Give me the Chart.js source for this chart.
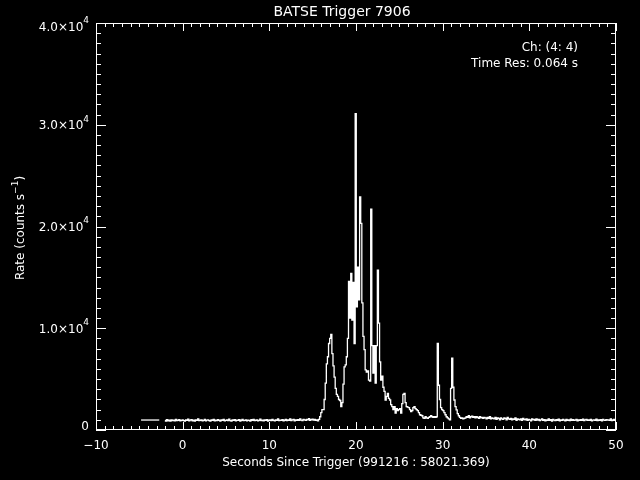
<!DOCTYPE html>
<html>
<head>
<meta charset="utf-8">
<title>BATSE Trigger 7906</title>
<script src="https://cdn.jsdelivr.net/npm/chart.js@4.4.1/dist/chart.umd.min.js"></script>
<style>
  html, body { margin: 0; padding: 0; background: #000; }
  canvas { display: block; }
</style>
</head>
<body>
<canvas id="lc" width="640" height="480"></canvas>
<script>
// time grid of the light curve (s since trigger), 2 bins of 0.064 s per point
const T0 = -2.048;
const DT = 0.128;

// count rates, 8 points (1.024 s) per row
const rates = [
  940, 880, 1010, 900, 960, 870, 1000, 930,
  980, 900, 1050, 920, 960, 1010, 890, 950,
  1000, 930, 870, 990, 940, 1060, 900, 970,
  1020, 910, 960, 880, 1000, 940, 1080, 920,
  960, 1000, 890, 950, 1030, 910, 970, 1000,
  930, 870, 990, 950, 1040, 900, 960, 920,
  1010, 940, 880, 1000, 960, 1050, 910, 950,
  990, 920, 1070, 930, 880, 1000, 950, 1020,
  900, 970, 940, 1010, 880, 960, 1030, 920,
  950, 1000, 900, 980, 940, 870, 1010, 960,
  1040, 920, 960, 1000, 890, 950, 1060, 930,
  970, 910, 1000, 940, 1020, 880, 960, 990,
  930, 1050, 950, 900, 1000, 960, 1090, 920,
  980, 940, 1010, 890, 960, 1030, 920, 1000,
  950, 1080, 930, 990, 1040, 910, 1000, 960,
  1020, 950, 1100, 980, 930, 1050, 1000, 960,
  1040, 990, 1120, 960, 1010, 1070, 980, 1030,
  950, 1000, 900, 1050, 1300, 1700, 2000, 2000,
  3000, 4600, 6500, 7200, 8500, 9000, 9400, 7500,
  6300, 5200, 4100, 3500, 3300, 3000, 2900, 2300,
  2700, 4500, 6200, 6400, 7200, 9000, 14600, 11000,
  15400, 10800, 14500, 8500, 31100, 12100, 16000, 12800,
  22900, 20300, 12500, 9200, 7900, 5900, 5700, 5800,
  4900, 4800, 21700, 8300, 5600, 8300, 4600, 8300,
  15700, 10500, 6700, 4900, 5300, 4200, 3800, 2950,
  3300, 3600, 3100, 2950, 2500, 2300, 2000, 2300,
  1650, 2100, 1900, 2000, 2100, 1650, 2600, 3500,
  3600, 2700, 2300, 2250, 2200, 2000, 1800, 1900,
  2200, 2300, 2100, 2000, 1900, 1700, 1500, 1450,
  1400, 1200, 1150, 1300, 1200, 1150, 1250, 1300,
  1400, 1300, 1250, 1300, 1250, 1300, 8500, 4400,
  3000, 2200, 2000, 1900, 1700, 1500, 1300, 1200,
  1100, 1000, 4100, 7050, 4200, 2950, 2300, 1970,
  1600, 1400, 1250, 1150, 1200, 1100, 1150, 1200,
  1300, 1250, 1400, 1200, 1300, 1350, 1250, 1300,
  1200, 1300, 1250, 1150, 1300, 1200, 1250, 1150,
  1250, 1200, 1100, 1250, 1150, 1300, 1100, 1200,
  1150, 1100, 1250, 1050, 1200, 1150, 1000, 1200,
  1100, 1050, 1200, 1150, 1000, 1250, 1100, 1050,
  1150, 1000, 1100, 1050, 1200, 950, 1100, 1050,
  1000, 1100, 950, 1150, 1050, 1000, 1100, 950,
  1050, 1000, 900, 1100, 1000, 1050, 950, 1100,
  980, 1050, 920, 1000, 1080, 950, 1020, 900,
  1000, 960, 1090, 940, 1010, 880, 1050, 970,
  930, 1020, 960, 1060, 900, 1000, 950, 1030,
  980, 900, 1040, 960, 1000, 920, 1070, 950,
  1010, 940, 980, 1050, 900, 1000, 960, 1020,
  950, 1060, 920, 990, 1030, 940, 1000, 960,
  1040, 910, 980, 1000, 950, 1070, 930, 990,
  960, 1020, 900, 1050, 980, 940, 1010, 970,
  1000, 950, 1080, 920, 990, 1030, 960, 1010
];

// short flat pre-trigger segment
const preTimes = [-4.8, -2.7];
const preRates = [980, 980];

const xTicks = [-10, 0, 10, 20, 30, 40, 50];
const yTicks = [0, 10000, 20000, 30000, 40000];
const yTickLabels = ['0', '1.0\u00d710', '2.0\u00d710', '3.0\u00d710', '4.0\u00d710'];

const FONT = '"DejaVu Sans", sans-serif';

const points = rates.map((r, i) => ({ x: T0 + i * DT, y: r }));
const prePoints = preTimes.map((t, i) => ({ x: t, y: preRates[i] }));

const idlFrame = {
  id: 'idlFrame',
  beforeDraw(chart) {
    const c = chart.ctx;
    c.save();
    c.fillStyle = '#000';
    c.fillRect(0, 0, chart.width, chart.height);
    c.restore();
  },
  afterDraw(chart) {
    const c = chart.ctx;
    const a = chart.chartArea;
    const xs = chart.scales.x, ys = chart.scales.y;
    c.save();
    c.strokeStyle = '#fff';
    c.fillStyle = '#fff';
    c.lineWidth = 1;
    c.strokeRect(a.left + 0.5, a.top + 0.5, a.right - a.left - 1, a.bottom - a.top - 1);

    c.beginPath();
    for (let v = -10; v <= 50; v++) {
      const px = Math.round(xs.getPixelForValue(v)) + 0.5;
      const len = v % 10 === 0 ? 8 : 4;
      c.moveTo(px, a.bottom); c.lineTo(px, a.bottom - len);
      c.moveTo(px, a.top); c.lineTo(px, a.top + len);
    }
    for (let v = 0; v <= 40000; v += 1000) {
      const py = Math.round(ys.getPixelForValue(v)) + 0.5;
      const len = v % 10000 === 0 ? 10 : 5;
      c.moveTo(a.left, py); c.lineTo(a.left + len, py);
      c.moveTo(a.right, py); c.lineTo(a.right - len, py);
    }
    c.stroke();

    // x tick labels
    c.font = '12px ' + FONT;
    c.textAlign = 'center';
    c.textBaseline = 'middle';
    xTicks.forEach(v => {
      const s = v < 0 ? '\u2212' + Math.abs(v) : String(v);
      c.fillText(s, xs.getPixelForValue(v), 446);
    });

    // y tick labels with raised exponent
    yTicks.forEach((v, i) => {
      const py = ys.getPixelForValue(v);
      c.textBaseline = 'middle';
      if (v === 0) {
        c.font = '12px ' + FONT;
        c.textAlign = 'right';
        c.fillText('0', 89, py - 3);
        return;
      }
      const dy = i === yTicks.length - 1 ? 5 : 1.5;
      c.font = '9px ' + FONT;
      c.textAlign = 'right';
      const ew = c.measureText('4').width;
      c.fillText('4', 89, py + dy - 7);
      c.font = '12px ' + FONT;
      c.fillText(yTickLabels[i], 89 - ew, py + dy);
    });

    // title and axis titles
    c.textAlign = 'center';
    c.font = '14px ' + FONT;
    c.fillText('BATSE Trigger 7906', 342, 12);
    c.font = '12px ' + FONT;
    c.fillText('Seconds Since Trigger (991216 : 58021.369)', 356, 463);

    // rotated y title
    c.save();
    c.translate(21, 228);
    c.rotate(-Math.PI / 2);
    const p1 = 'Rate (counts s', p3 = ')';
    c.font = '12px ' + FONT;
    const w1 = c.measureText(p1).width;
    const w3 = c.measureText(p3).width;
    c.font = '9px ' + FONT;
    const w2 = c.measureText('\u22121').width;
    let x0 = -(w1 + w2 + w3) / 2;
    c.textAlign = 'left';
    c.font = '12px ' + FONT;
    c.fillText(p1, x0, 0);
    c.font = '9px ' + FONT;
    c.fillText('\u22121', x0 + w1, -5);
    c.font = '12px ' + FONT;
    c.fillText(p3, x0 + w1 + w2, 0);
    c.restore();

    // annotation, top right
    c.textAlign = 'right';
    c.font = '12px ' + FONT;
    c.fillText('Ch: (4: 4)', 578, 48);
    c.fillText('Time Res: 0.064 s', 578, 63.5);
    c.restore();
  }
};

new Chart(document.getElementById('lc'), {
  type: 'line',
  data: {
    datasets: [{
      data: points,
      borderColor: '#fff',
      borderWidth: 1.3,
      pointRadius: 0,
      stepped: 'middle',
      fill: false
    }, {
      data: prePoints,
      borderColor: '#fff',
      borderWidth: 1.3,
      pointRadius: 0,
      fill: false
    }]
  },
  options: {
    responsive: false,
    animation: false,
    layout: { padding: { left: 96, right: 24, top: 23, bottom: 50 } },
    plugins: { legend: { display: false }, tooltip: { enabled: false } },
    scales: {
      x: { type: 'linear', min: -10, max: 50, display: false },
      y: { type: 'linear', min: 0, max: 40000, display: false }
    }
  },
  plugins: [idlFrame]
});
</script>
</body>
</html>
